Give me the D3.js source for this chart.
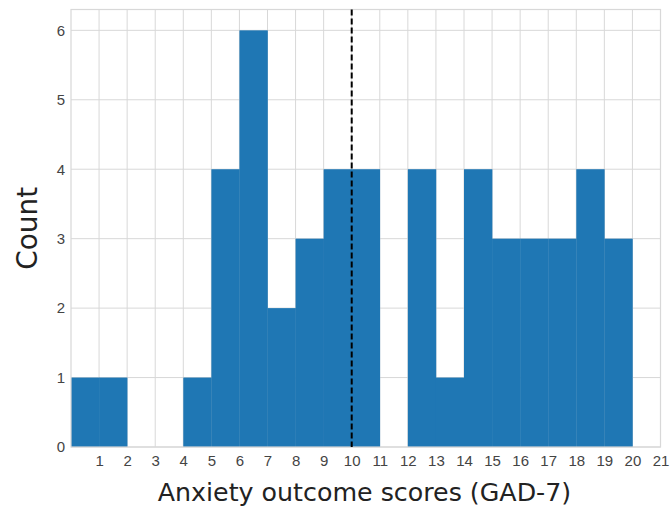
<!DOCTYPE html>
<html><head><meta charset="utf-8">
<script src="https://cdn.jsdelivr.net/npm/d3@7"></script>
<style>body{margin:0;background:#fff}svg{display:block}</style>
</head><body><svg id="c" width="671" height="508"></svg>
<script>
const binStarts = [0,1,2,3,4,5,6,7,8,9,10,11,12,13,14,15,16,17,18,19];
const counts    = [1,1,0,0,1,4,6,2,3,4,4,0,4,1,4,3,3,3,4,3];
const xTicks = d3.range(1,22);
const yTicks = [0,1,2,3,4,5,6];
const cutoff = 10;
const xLabel = "Anxiety outcome scores (GAD-7)";
const yLabel = "Count";

const svg = d3.select("#c");
const m = {l:71, t:9.5, r:660.5, b:447};
const x = d3.scaleLinear().domain([0,21]).range([m.l, m.r]);
const y = d3.scaleLinear().domain([0,6.3]).range([m.b, m.t]);
const grid = "#d8d8d8";

// grid
svg.append("g").selectAll("line").data(xTicks).join("line")
  .attr("x1",d=>x(d)).attr("x2",d=>x(d)).attr("y1",m.t).attr("y2",m.b)
  .attr("stroke",grid).attr("stroke-width",1);
svg.append("g").selectAll("line").data(yTicks).join("line")
  .attr("x1",m.l).attr("x2",m.r).attr("y1",d=>y(d)).attr("y2",d=>y(d))
  .attr("stroke",grid).attr("stroke-width",1);

// bars
svg.append("g").selectAll("rect").data(binStarts.map((s,i)=>({s,c:counts[i]})).filter(d=>d.c>0)).join("rect")
  .attr("x",d=>x(d.s)).attr("width",d=>x(d.s+1)-x(d.s)+0.3)
  .attr("y",d=>y(d.c)).attr("height",d=>y(0)-y(d.c))
  .attr("fill","#1f77b4");

// frame
svg.append("rect").attr("x",m.l).attr("y",m.t).attr("width",m.r-m.l).attr("height",m.b-m.t)
  .attr("fill","none").attr("stroke",grid).attr("stroke-width",1.2);

// cutoff
svg.append("line").attr("x1",x(cutoff)).attr("x2",x(cutoff)).attr("y1",m.t).attr("y2",m.b)
  .attr("stroke","#000").attr("stroke-width",2).attr("stroke-dasharray","6,3");

// axes (labels only)
const tf = "'Liberation Sans', Arial, sans-serif";
const xa = d3.axisBottom(x).tickValues(xTicks).tickSize(0).tickPadding(8);
const gx = svg.append("g").attr("transform",`translate(0,${m.b})`).call(xa);
gx.select(".domain").remove();
gx.selectAll("text").style("font-size","15px").style("fill","#444").style("font-family",tf);
const ya = d3.axisLeft(y).tickValues(yTicks).tickFormat(d3.format("d")).tickSize(0).tickPadding(6);
const gy = svg.append("g").attr("transform",`translate(${m.l},0)`).call(ya);
gy.select(".domain").remove();
gy.selectAll("text").style("font-size","15px").style("fill","#444").style("font-family",tf);

const lf = "'DejaVu Sans', sans-serif";
svg.append("text").attr("x",364.5).attr("y",501).attr("text-anchor","middle")
  .style("font-family",lf).style("font-size","25.3px").style("fill","#222").text(xLabel);
svg.append("text").attr("transform",`translate(37,${(m.t+m.b)/2}) rotate(-90)`).attr("text-anchor","middle")
  .style("font-family",lf).style("font-size","28px").style("fill","#222").text(yLabel);
</script></body></html>
